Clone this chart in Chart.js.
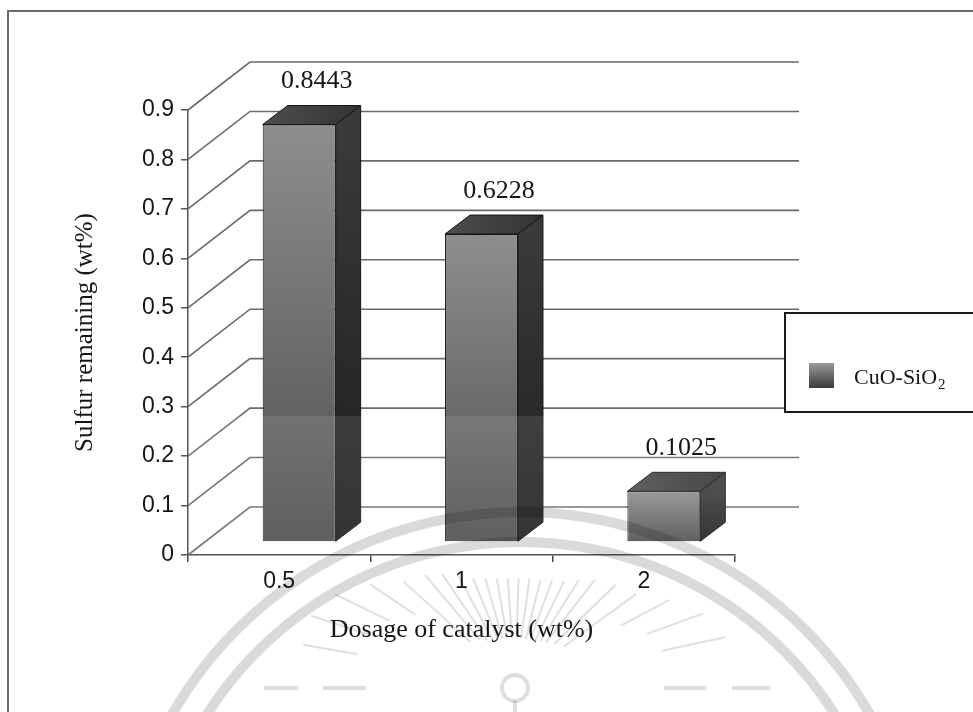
<!DOCTYPE html>
<html>
<head>
<meta charset="utf-8">
<script src="https://cdn.jsdelivr.net/npm/chart.js@4.4.1/dist/chart.umd.min.js"></script>
<style>
  html, body { margin: 0; padding: 0; background: #ffffff; }
  canvas { display: block; }
</style>
</head>
<body>
<canvas id="chart" width="973" height="712"></canvas>
<script>
// Dosage of catalyst (wt%) and the sulfur left after treatment (wt%)
const categories = ['0.5', '1', '2'];
const sulfurRemaining = [0.8443, 0.6228, 0.1025];
const yTickValues = [0, 0.1, 0.2, 0.3, 0.4, 0.5, 0.6, 0.7, 0.8, 0.9];
const seriesName = 'CuO-SiO₂';

const SANS = "'Liberation Sans', Arial, sans-serif";
const SERIF = "'Liberation Serif', 'Times New Roman', serif";
const INK = '#161616';

// pseudo-3D geometry (pixels)
const WALL_DX = 62, WALL_DY = -48;   // floor depth: front axis -> back wall
const BAR_SX = 20, BAR_SY = -13;     // bars sit a little behind the front axis
const BAR_DX = 25, BAR_DY = -19;     // bar depth

function frontFill(chart, value) {
  const ys = chart.scales.y;
  if (!ys || value == null) return '#777777';
  const top = ys.getPixelForValue(value);
  const base = ys.getPixelForValue(0);
  if (!isFinite(top) || !isFinite(base) || top === base) return '#777777';
  const g = chart.ctx.createLinearGradient(0, top, 0, base);
  g.addColorStop(0, '#8e8e8e');
  g.addColorStop(0.55, '#6c6c6c');
  g.addColorStop(1, '#4e4e4e');
  return g;
}

// back wall grid and the diagonals of the left wall
const wallPlugin = {
  id: 'wall3d',
  beforeDatasetsDraw(chart) {
    const { ctx, scales: { x, y } } = chart;
    ctx.save();
    ctx.strokeStyle = '#6a6a6a';
    ctx.lineWidth = 1.6;
    yTickValues.forEach(v => {
      const py = y.getPixelForValue(v);
      ctx.beginPath();
      ctx.moveTo(x.left, py);
      ctx.lineTo(x.left + WALL_DX, py + WALL_DY);
      ctx.lineTo(x.right + WALL_DX + 2, py + WALL_DY);
      ctx.stroke();
    });
    ctx.restore();
    // front faces of the bars are drawn by Chart.js in the shifted plane
    ctx.save();
    ctx.translate(BAR_SX, BAR_SY);
  },
  afterDatasetsDraw(chart) {
    const { ctx } = chart;
    ctx.restore();
    const meta = chart.getDatasetMeta(0);
    ctx.save();
    ctx.lineWidth = 1;
    ctx.strokeStyle = '#141414';
    ctx.lineJoin = 'round';
    meta.data.forEach(bar => {
      const { x, y, base, width } = bar.getProps(['x', 'y', 'base', 'width'], true);
      const l = x - width / 2 + BAR_SX, r = x + width / 2 + BAR_SX;
      const t = y + BAR_SY, b = base + BAR_SY;
      // right side face
      let g = ctx.createLinearGradient(0, t, 0, b);
      g.addColorStop(0, '#3a3a3a');
      g.addColorStop(1, '#1e1e1e');
      ctx.fillStyle = g;
      ctx.beginPath();
      ctx.moveTo(r, t); ctx.lineTo(r + BAR_DX, t + BAR_DY);
      ctx.lineTo(r + BAR_DX, b + BAR_DY); ctx.lineTo(r, b); ctx.closePath();
      ctx.fill(); ctx.stroke();
      // top face
      g = ctx.createLinearGradient(l, 0, r + BAR_DX, 0);
      g.addColorStop(0, '#4e4e4e');
      g.addColorStop(1, '#333333');
      ctx.fillStyle = g;
      ctx.beginPath();
      ctx.moveTo(l, t); ctx.lineTo(l + BAR_DX, t + BAR_DY);
      ctx.lineTo(r + BAR_DX, t + BAR_DY); ctx.lineTo(r, t); ctx.closePath();
      ctx.fill(); ctx.stroke();
    });
    // light haze over the lower part of the plot
    const { x: xs, y: ysc } = chart.scales;
    ctx.fillStyle = 'rgba(255,255,255,0.1)';
    ctx.fillRect(xs.left + 1, 416, xs.right + WALL_DX - xs.left, ysc.bottom - 416);
    // value labels above the bars
    ctx.fillStyle = INK;
    ctx.font = '26px ' + SERIF;
    ctx.textAlign = 'center';
    ctx.textBaseline = 'middle';
    meta.data.forEach((bar, i) => {
      const { x, y } = bar.getProps(['x', 'y'], true);
      ctx.fillText(sulfurRemaining[i].toFixed(4), x + BAR_SX + BAR_DX / 2 + 5, y + BAR_SY + BAR_DY - 24);
    });
    ctx.restore();
  }
};

// boxed legend on the right
const legendBox = {
  id: 'legendBox',
  afterDraw(chart) {
    const { ctx } = chart;
    const ds = chart.data.datasets[0];
    ctx.save();
    ctx.fillStyle = '#ffffff';
    ctx.fillRect(785, 313, 200, 99);
    ctx.strokeStyle = '#1a1a1a';
    ctx.lineWidth = 2;
    ctx.strokeRect(785, 313, 200, 99);
    const g = ctx.createLinearGradient(0, 363, 0, 388);
    g.addColorStop(0, '#9a9a9a');
    g.addColorStop(1, '#3a3a3a');
    ctx.fillStyle = g;
    ctx.fillRect(809, 363, 25, 25);
    const parts = ds.label.split('₂');
    ctx.fillStyle = INK;
    ctx.textBaseline = 'alphabetic';
    ctx.textAlign = 'left';
    ctx.font = '22px ' + SERIF;
    ctx.fillText(parts[0], 854, 384);
    const w = ctx.measureText(parts[0]).width;
    ctx.font = '15px ' + SERIF;
    ctx.fillText('2', 854 + w + 1, 389);
    ctx.restore();
  }
};

// outer frame and faint emblem in the lower half
const decor = {
  id: 'decor',
  beforeDraw(chart) {
    const { ctx } = chart;
    ctx.save();
    ctx.fillStyle = '#ffffff';
    ctx.fillRect(0, 0, chart.width, chart.height);
    ctx.strokeStyle = '#6a6a6a';
    ctx.lineWidth = 2;
    ctx.strokeRect(8, 11, 1000, 1000);
    ctx.restore();
  },
  afterDraw(chart) {
    const { ctx } = chart;
    ctx.save();
    ctx.globalCompositeOperation = 'multiply';
    ctx.strokeStyle = '#dadada';
    ctx.lineWidth = 10;
    [402, 372].forEach(r => {
      ctx.beginPath();
      ctx.arc(521, 914, r, Math.PI * 1.05, Math.PI * 1.95);
      ctx.stroke();
    });
    const cx = 515, cy = 682;
    const rays = [
      [12, 150, 215], [20, 140, 200], [28, 120, 175], [36, 60, 150], [44, 55, 140],
      [52, 50, 130], [58, 48, 120], [64, 46, 112], [70, 45, 108], [76, 44, 105],
      [82, 44, 104], [88, 44, 104], [94, 44, 104], [100, 44, 105], [106, 45, 108],
      [112, 46, 112], [118, 48, 120], [124, 50, 130], [130, 55, 140], [138, 60, 150],
      [146, 120, 175], [154, 140, 200], [162, 150, 215], [170, 160, 215]
    ];
    ctx.strokeStyle = '#e0e0e0';
    ctx.lineWidth = 2;
    rays.forEach(([deg, r0, r1]) => {
      const a = deg * Math.PI / 180;
      ctx.beginPath();
      ctx.moveTo(cx + Math.cos(a) * r0, cy - Math.sin(a) * r0);
      ctx.lineTo(cx + Math.cos(a) * r1, cy - Math.sin(a) * r1);
      ctx.stroke();
    });
    ctx.lineWidth = 4;
    ctx.strokeStyle = '#dedede';
    ctx.beginPath();
    ctx.arc(cx, cy + 6, 13, 0, Math.PI * 2);
    ctx.stroke();
    ctx.beginPath();
    ctx.moveTo(cx, cy + 19); ctx.lineTo(cx, 712);
    ctx.stroke();
    [[264, 298], [323, 366], [664, 706], [732, 770]].forEach(([a, b]) => {
      ctx.beginPath(); ctx.moveTo(a, 688); ctx.lineTo(b, 688); ctx.stroke();
    });
    ctx.restore();
  }
};

new Chart(document.getElementById('chart'), {
  type: 'bar',
  data: {
    labels: categories,
    datasets: [{
      label: seriesName,
      data: sulfurRemaining,
      backgroundColor: ctx => frontFill(ctx.chart, ctx.raw),
      borderColor: '#141414',
      borderWidth: 1,
      borderSkipped: false,
      barPercentage: 0.40,
      categoryPercentage: 1.0
    }]
  },
  options: {
    responsive: false,
    animation: false,
    devicePixelRatio: 1,
    layout: { padding: { left: 0, right: 238, top: 110, bottom: 0 } },
    plugins: {
      legend: { display: false },
      tooltip: { enabled: false }
    },
    scales: {
      x: {
        type: 'category',
        offset: true,
        grid: { offset: true, drawOnChartArea: false, tickLength: 7, color: '#444444', lineWidth: 1.5 },
        border: { color: '#444444', width: 1.5 },
        ticks: { font: { family: SANS, size: 23 }, color: INK, padding: 6 },
        title: {
          display: true,
          text: 'Dosage of catalyst (wt%)',
          font: { family: SERIF, size: 26 },
          color: INK,
          padding: { top: 0, bottom: 66 }
        },
        afterFit(scale) { scale.height = 157; }
      },
      y: {
        min: 0,
        max: 0.9,
        ticks: {
          stepSize: 0.1,
          font: { family: SANS, size: 23 },
          color: INK,
          padding: 7,
          callback: v => String(Math.round(v * 10) / 10)
        },
        grid: { drawOnChartArea: false, tickLength: 7, color: '#555555', lineWidth: 1.5 },
        border: { color: '#555555', width: 1.5 },
        title: {
          display: true,
          text: 'Sulfur remaining (wt%)',
          font: { family: SERIF, size: 25 },
          color: INK,
          padding: { top: 70, bottom: 0 }
        },
        afterFit(scale) { scale.width = 188; }
      }
    }
  },
  plugins: [decor, wallPlugin, legendBox]
});
</script>
</body>
</html>
